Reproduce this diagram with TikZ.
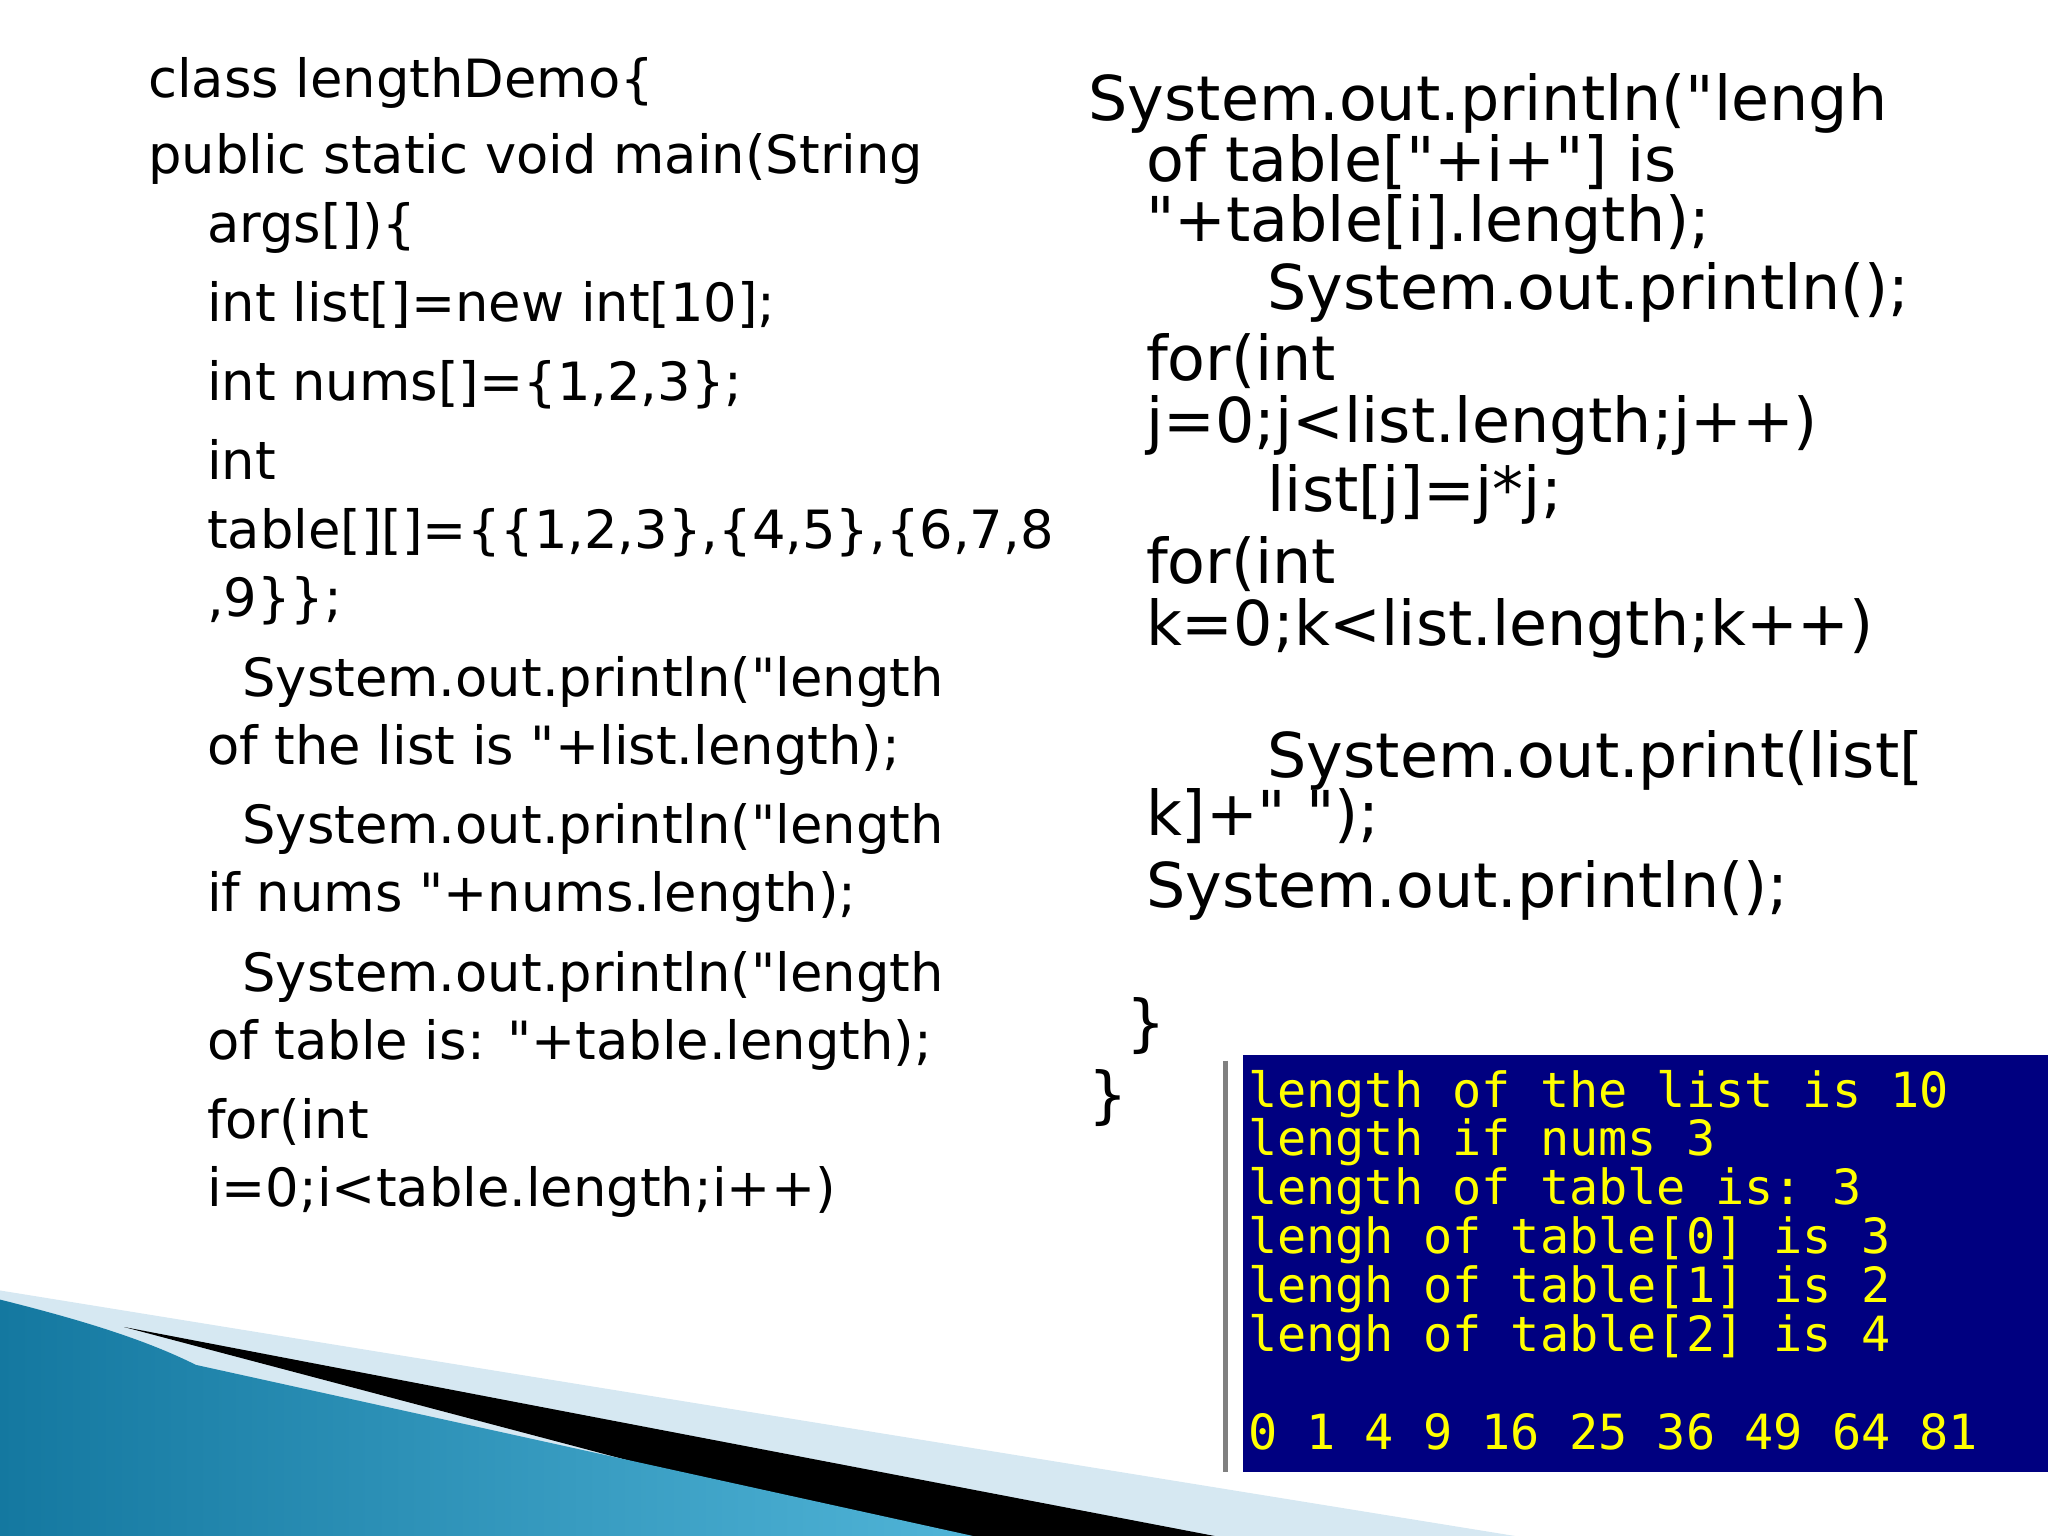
\documentclass[tikz,border=0pt]{standalone}
\usepackage{fontspec}
\setmainfont[Ligatures=TeXOff]{DejaVu Sans}
\setmonofont{DejaVu Sans Mono}
\newcommand\dq{\symbol{34}}
\definecolor{navy}{RGB}{0,0,128}
\definecolor{conyel}{RGB}{255,255,0}
\definecolor{lightband}{RGB}{214,232,242}
\definecolor{blueA}{RGB}{20,120,160}
\definecolor{blueB}{RGB}{80,180,215}
\begin{document}
\begin{tikzpicture}[x=0.013061cm,y=-0.013061cm,
  lcode/.style={anchor=base west,inner sep=0pt,font=\fontsize{15pt}{18pt}\selectfont},
  rcode/.style={anchor=base west,inner sep=0pt,font=\fontsize{17.6pt}{21pt}\selectfont},
  con/.style={anchor=base west,inner sep=0pt,text=conyel,font=\ttfamily\fontsize{13.8pt}{16pt}\selectfont}]
\useasboundingbox (0,0) rectangle (1568,1176);
% decoration
\fill[lightband] (0,988) -- (1160,1176) -- (0,1176) -- cycle;
\fill[black] (95,1016) -- (930,1176) -- (700,1176) -- cycle;
\shade[left color=blueA,right color=blueB] (0,995) .. controls (60,1010) and (110,1025) .. (150,1045) -- (745,1176) -- (0,1176) -- cycle;
% console
\fill[navy] (952,808) rectangle (1568,1127);
\draw[gray,line width=1.5pt] (938,812) -- (938,1127);
\node[con] (c1) at (955,848) {length of the list is 10};
\node[con] (c2) at (955,885) {length if nums 3};
\node[con] (c3) at (955,922) {length of table is: 3};
\node[con] (c4) at (955,960) {lengh of table[0] is 3};
\node[con] (c5) at (955,997) {lengh of table[1] is 2};
\node[con] (c6) at (955,1035) {lengh of table[2] is 4};
\node[con] (c7) at (955,1110) {0 1 4 9 16 25 36 49 64 81};
% left code
\node[lcode] (l1) at (113,75) {class lengthDemo\{};
\node[lcode] (l2) at (113,133) {public static void main(String};
\node[lcode] (l3) at (158,186) {args[])\{};
\node[lcode] (l4) at (158,246) {int list[]=new int[10];};
\node[lcode] (l5) at (158,307) {int nums[]=\{1,2,3\};};
\node[lcode] (l6) at (158,367) {int};
\node[lcode] (l7) at (158,420) {table[][]=\{\{1,2,3\},\{4,5\},\{6,7,8};
\node[lcode] (l8) at (158,472) {,9\}\};};
\node[lcode] (l9) at (185,533) {System.out.println(\dq length};
\node[lcode] (l10) at (158,585) {of the list is \dq+list.length);};
\node[lcode] (l11) at (185,646) {System.out.println(\dq length};
\node[lcode] (l12) at (158,698) {if nums \dq+nums.length);};
\node[lcode] (l13) at (185,759) {System.out.println(\dq length};
\node[lcode] (l14) at (158,811) {of table is: \dq+table.length);};
\node[lcode] (l15) at (158,872) {for(int};
\node[lcode] (l16) at (158,924) {i=0;i<table.length;i++)};
% right code
\node[rcode] (r1) at (833,92) {System.out.println(\dq lengh};
\node[rcode] (r2) at (877,139) {of table[\dq+i+\dq] is};
\node[rcode] (r3) at (877,185) {\dq+table[i].length);};
\node[rcode] (r4) at (970,237) {System.out.println();};
\node[rcode] (r5) at (877,291) {for(int};
\node[rcode] (r6) at (877,339) {j=0;j<list.length;j++)};
\node[rcode] (r7) at (970,392) {list[j]=j*j;};
\node[rcode] (r8) at (877,447) {for(int};
\node[rcode] (r9) at (877,494) {k=0;k<list.length;k++)};
\node[rcode] (r10) at (970,595) {System.out.print(list[};
\node[rcode] (r11) at (877,640) {k]+\dq{} \dq);};
\node[rcode] (r12) at (877,695) {System.out.println();};
\node[rcode] (r13) at (862,800) {\}};
\node[rcode] (r14) at (833,855) {\}};
\end{tikzpicture}
\end{document}
